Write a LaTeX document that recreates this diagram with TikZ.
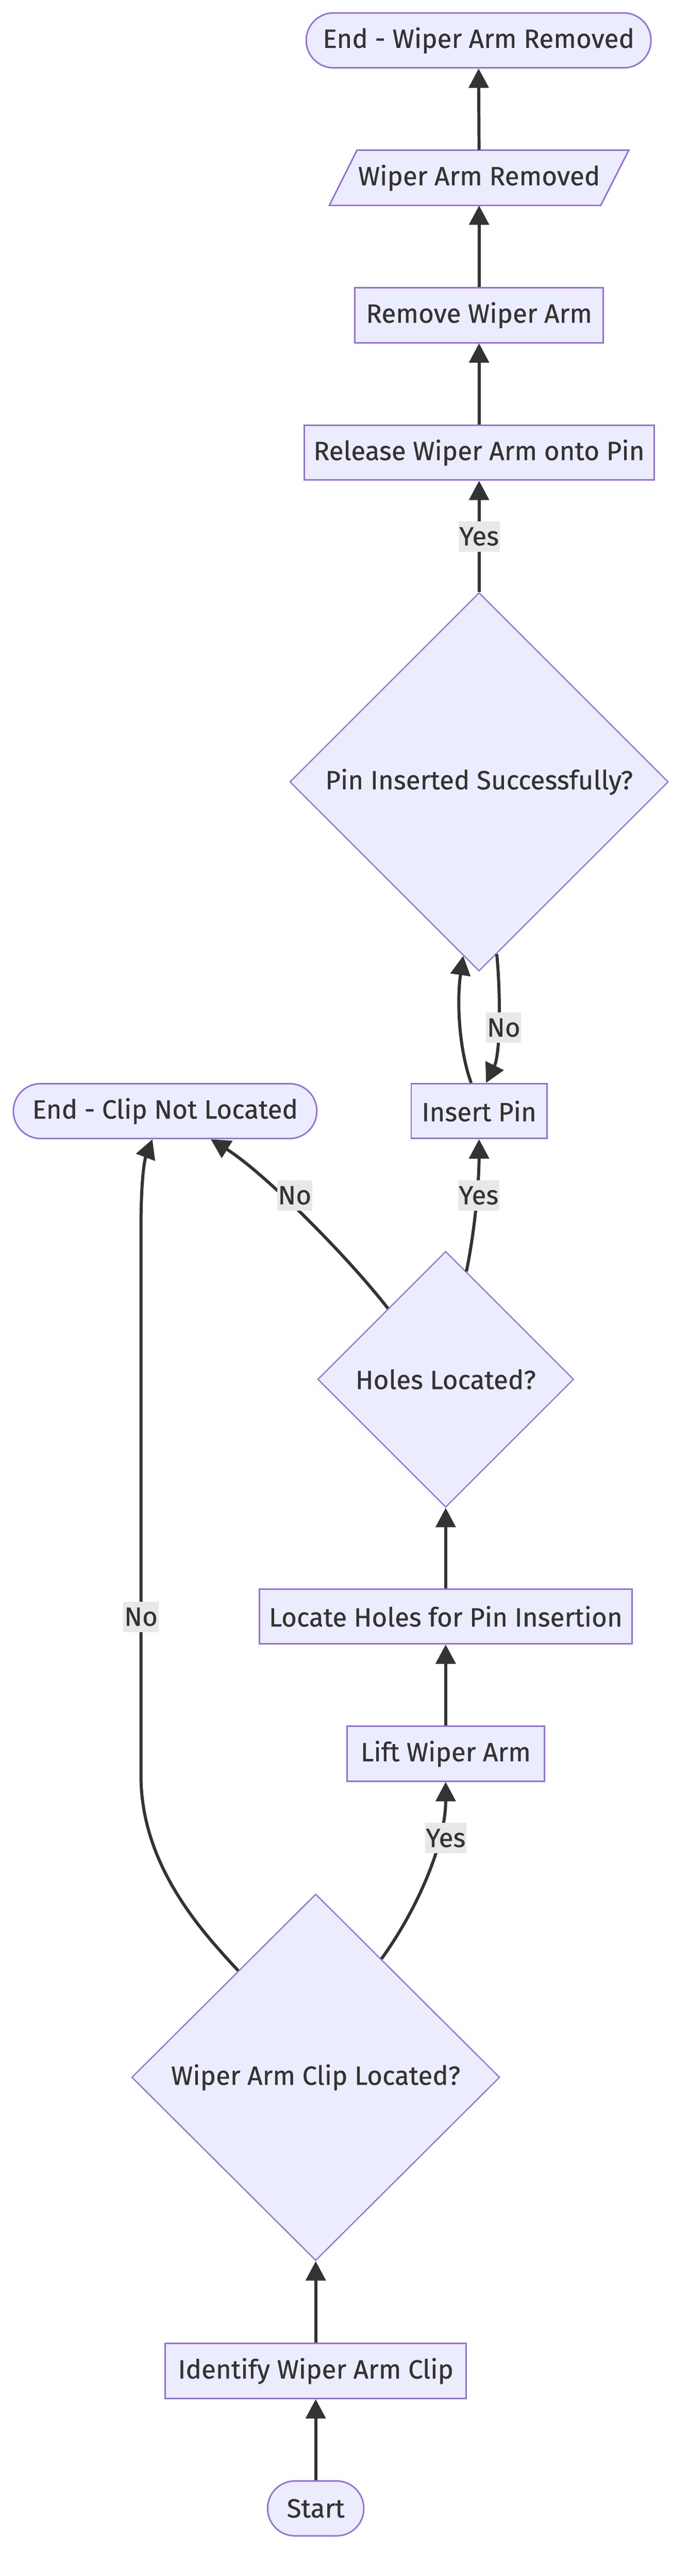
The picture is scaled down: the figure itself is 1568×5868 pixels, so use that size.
\documentclass[tikz,border=0pt]{standalone}
\usepackage{fontspec}
\newfontfamily\diagfont{Fira Sans}[FakeBold=0.6]
\usetikzlibrary{shapes.geometric,arrows.meta,calc}
\definecolor{nfill}{HTML}{ECECFF}
\definecolor{nstroke}{HTML}{9370DB}
\definecolor{eline}{HTML}{333333}
\definecolor{lblbg}{HTML}{E8E8E8}
\definecolor{txtc}{HTML}{333333}
\begin{document}
\begin{tikzpicture}[x=1pt,y=-1pt,
  every node/.style={font=\diagfont\fontsize{60}{72}\selectfont, text=txtc},
  proc/.style={draw=nstroke, fill=nfill, line width=3.4pt, rectangle, minimum height=125pt, inner sep=0pt},
  term/.style={proc, rounded corners=62pt},
  decis/.style={draw=nstroke, fill=nfill, line width=2.8pt, diamond, inner sep=0pt},
  paratext/.style={inner sep=0pt, minimum height=126pt},
  lbl/.style={fill=lblbg, inner xsep=2pt, inner ysep=0pt, minimum height=69pt},
  flow/.style={draw=eline, line width=7pt, -{Triangle[width=45pt,length=44pt]}},
]
\useasboundingbox (0,0) rectangle (1568,5868);

% nodes
\node[term, minimum width=785pt] (endR) at (1090,92) {End - Wiper Arm Removed};
\coordinate (wARc) at (1091,405);
\draw[draw=nstroke, fill=nfill, line width=3.4pt]
  ($(wARc)+(-341,63)$) -- ($(wARc)+(277,63)$) -- ($(wARc)+(341,-63)$) -- ($(wARc)+(-278,-63)$) -- cycle;
\node[paratext, minimum width=620pt] (wAR) at (wARc) {Wiper Arm Removed};
\node[proc, minimum width=565pt] (remove) at (1091,718) {Remove Wiper Arm};
\node[proc, minimum width=797pt] (release) at (1091,1031) {Release Wiper Arm onto Pin};
\node[decis, minimum width=862pt, minimum height=862pt] (pinOK) at (1091,1781) {Pin Inserted Successfully?};
\node[proc, minimum width=309pt] (insert) at (1091,2531) {Insert Pin};
\node[term, minimum width=691pt] (endC) at (376,2531) {End - Clip Not Located};
\node[decis, minimum width=583pt, minimum height=583pt] (holes) at (1015,3142) {Holes Located?};
\node[proc, minimum width=849pt] (locate) at (1015,3682) {Locate Holes for Pin Insertion};
\node[proc, minimum width=449pt] (lift) at (1015,3995) {Lift Wiper Arm};
\node[decis, minimum width=838pt, minimum height=835pt] (clip) at (719,4732) {Wiper Arm Clip Located?};
\node[proc, minimum width=685pt] (identify) at (719,5401) {Identify Wiper Arm Clip};
\node[term, minimum width=219pt] (start) at (719,5714) {Start};

% edges
\draw[flow] (start.north) -- (identify.south);
\draw[flow] (identify.north) -- (clip.south);
\draw[flow] ($(clip.north)!0.356!(clip.east)$) .. controls (950,4350) and (1015,4200) .. (lift.south);
\draw[flow] ($(clip.north)!0.42!(clip.west)$) .. controls (460,4400) and (321,4250) .. (321,4044)
  -- (321,2800) .. controls (321,2680) and (330,2640) .. ($(endC.south)+(-29,0)$);
\draw[flow] (lift.north) -- (locate.south);
\draw[flow] (locate.north) -- (holes.south);
\draw[flow] ($(holes.north)!0.161!(holes.east)$) .. controls (1082,2800) and (1091,2690) .. (insert.south);
\draw[flow] ($(holes.north)!0.449!(holes.west)$) .. controls (790,2860) and (600,2670) .. ($(endC.south)+(104,0)$);
\draw[flow] ($(insert.north)+(-18,0)$) .. controls (1045,2390) and (1040,2280) .. ($(pinOK.south)!0.0835!(pinOK.west)$);
\draw[flow] ($(pinOK.south)!0.093!(pinOK.east)$) .. controls (1140,2260) and (1140,2400) .. ($(insert.north)+(16,0)$);
\draw[flow] (pinOK.north) -- (release.south);
\draw[flow] (release.north) -- (remove.south);
\draw[flow] (remove.north) -- (wAR.south);
\draw[flow] (wAR.north) -- (endR.south);

% labels
\node[lbl] (l1) at (1091,1222) {Yes};
\node[lbl] (l2) at (1147,2341) {No};
\node[lbl] (l3) at (1090,2723) {Yes};
\node[lbl] (l4) at (671,2723) {No};
\node[lbl] (l5) at (321,3683) {No};
\node[lbl] (l6) at (1015,4187) {Yes};
\end{tikzpicture}
\end{document}
